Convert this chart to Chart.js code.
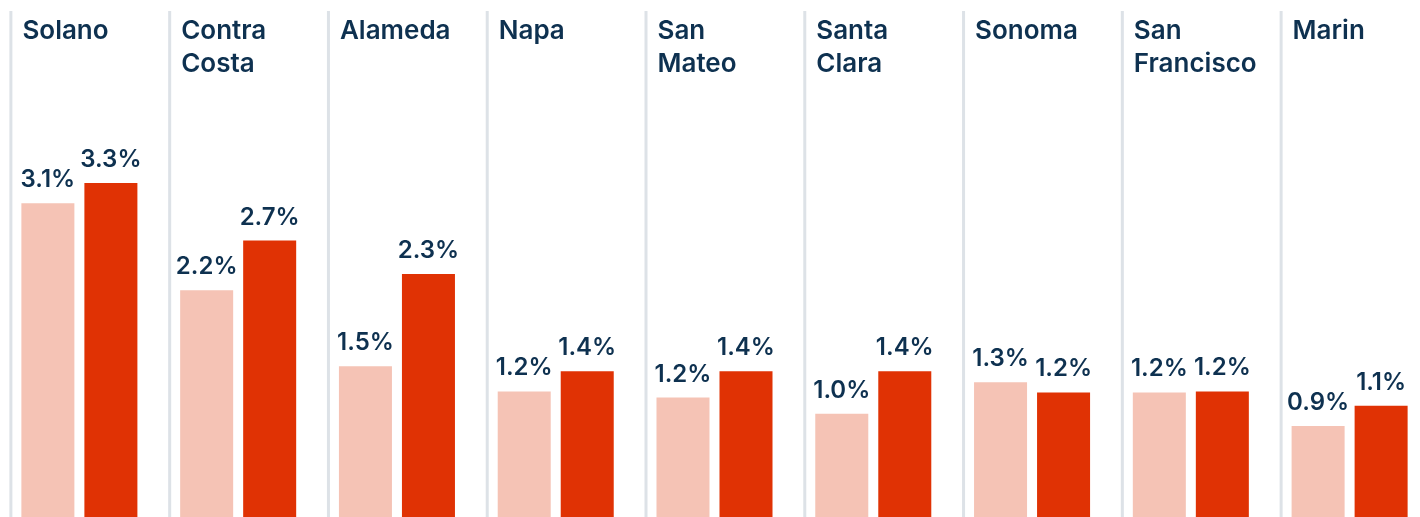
<!DOCTYPE html>
<html>
<head>
<meta charset="utf-8">
<script src="https://cdn.jsdelivr.net/npm/chart.js@4"></script>
<style>
  html, body { margin: 0; padding: 0; background: #fff; overflow: hidden; }
  #wrap { width: 1429px; height: 517px; }
</style>
</head>
<body>
<div id="wrap"><canvas id="countyChart" width="1429" height="517"></canvas></div>
<script>
const counties = ['Solano', ['Contra', 'Costa'], 'Alameda', 'Napa', ['San', 'Mateo'], ['Santa', 'Clara'], 'Sonoma', ['San', 'Francisco'], 'Marin'];

// bar heights
const earlier = [3.10, 2.24, 1.49, 1.24, 1.18, 1.02, 1.33, 1.23, 0.90];
const later = [3.30, 2.73, 2.40, 1.44, 1.44, 1.44, 1.23, 1.24, 1.10];

// value labels as printed above the bars
const earlierLabels = ['3.1%', '2.2%', '1.5%', '1.2%', '1.2%', '1.0%', '1.3%', '1.2%', '0.9%'];
const laterLabels = ['3.3%', '2.7%', '2.3%', '1.4%', '1.4%', '1.4%', '1.2%', '1.2%', '1.1%'];

const navy = '#0e3150';
const fontFamily = 'Inter, "Noto Sans", sans-serif';

const panelDecor = {
  id: 'panelDecor',
  beforeDatasetsDraw(chart) {
    const ctx = chart.ctx;
    const x = chart.scales.x;
    ctx.save();
    ctx.fillStyle = '#dde2e7';
    counties.forEach((c, i) => {
      const sx = x.getPixelForValue(i) - 68.5;
      ctx.fillRect(sx - 1.5, 11, 3, chart.height - 11);
    });
    ctx.restore();
  },
  afterDatasetsDraw(chart) {
    const ctx = chart.ctx;
    const x = chart.scales.x;
    ctx.save();
    ctx.fillStyle = navy;
    ctx.textBaseline = 'alphabetic';

    // county titles
    ctx.font = '600 26px ' + fontFamily;
    ctx.textAlign = 'left';
    counties.forEach((c, i) => {
      const lines = Array.isArray(c) ? c : [c];
      const tx = x.getPixelForValue(i) - 57;
      lines.forEach((line, j) => ctx.fillText(line, tx, 38.5 + j * 33.3));
    });

    // value labels
    ctx.font = '600 24px ' + fontFamily;
    ctx.textAlign = 'center';
    const labelSets = [earlierLabels, laterLabels];
    chart.data.datasets.forEach((ds, d) => {
      chart.getDatasetMeta(d).data.forEach((bar, i) => {
        ctx.fillText(labelSets[d][i], bar.x, bar.y - 16);
      });
    });
    ctx.restore();
  }
};

new Chart(document.getElementById('countyChart'), {
  type: 'bar',
  data: {
    labels: counties,
    datasets: [
      {
        label: 'Earlier',
        data: earlier,
        backgroundColor: '#f5c3b5',
        barPercentage: 0.8413,
        categoryPercentage: 0.7937,
      },
      {
        label: 'Later',
        data: later,
        backgroundColor: '#e03204',
        barPercentage: 0.8413,
        categoryPercentage: 0.7937,
      },
    ],
  },
  options: {
    responsive: false,
    animation: false,
    layout: { padding: 0 },
    plugins: {
      legend: { display: false },
      tooltip: { enabled: false },
    },
    scales: {
      x: { display: false },
      y: { display: false, min: 0, max: 517 / 101.25 },
    },
  },
  plugins: [panelDecor],
});
</script>
</body>
</html>
